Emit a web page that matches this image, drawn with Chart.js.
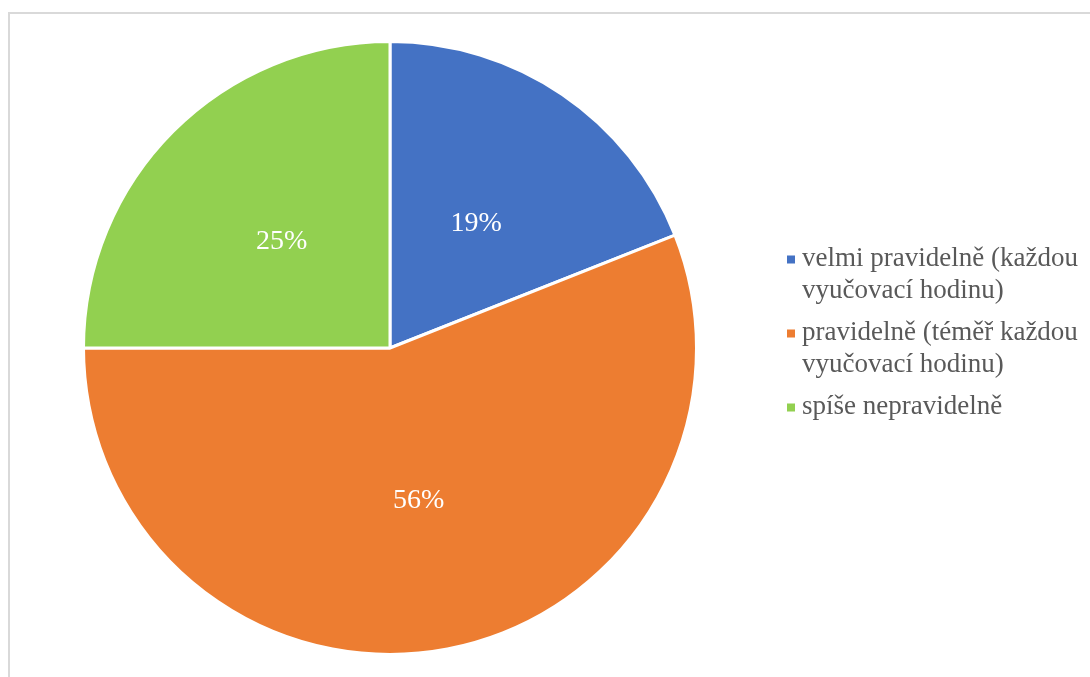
<!DOCTYPE html>
<html>
<head>
<meta charset="utf-8">
<script src="https://cdn.jsdelivr.net/npm/chart.js@4/dist/chart.umd.min.js"></script>
<style>
  html, body { margin: 0; padding: 0; background: #ffffff; }
  #wrap { position: relative; width: 1090px; height: 677px; overflow: hidden; }
  #frame { position: absolute; left: 8px; top: 12px; width: 1100px; height: 700px;
           border: 2px solid #d9d9d9; box-sizing: border-box; }
  canvas { position: absolute; left: 0; top: 0; }
</style>
</head>
<body>
<div id="wrap">
  <div id="frame"></div>
  <canvas id="chart" width="1090" height="677"></canvas>
</div>
<script>
// Answer categories (each split into the lines shown in the legend)
const categories = [
  ['velmi pravidelně (každou', 'vyučovací hodinu)'],
  ['pravidelně (téměř každou', 'vyučovací hodinu)'],
  ['spíše nepravidelně']
];
// Share of respondents, in percent
const shares = [19, 56, 25];
const sliceColors = ['#4472C4', '#ED7D31', '#92D050'];

const serif = '"Liberation Serif", "Times New Roman", serif';

// Percentage labels inside each slice
const sliceLabels = {
  id: 'sliceLabels',
  afterDatasetsDraw(chart) {
    const ctx = chart.ctx;
    const meta = chart.getDatasetMeta(0);
    ctx.save();
    ctx.fillStyle = '#ffffff';
    ctx.font = '28px ' + serif;
    ctx.textAlign = 'center';
    ctx.textBaseline = 'middle';
    meta.data.forEach((arc, i) => {
      const p = arc.tooltipPosition();
      ctx.fillText(shares[i] + '%', p.x, p.y + 2);
    });
    ctx.restore();
  }
};

// Legend on the right: square marker plus wrapped category text
const sideLegend = {
  id: 'sideLegend',
  afterDraw(chart) {
    const ctx = chart.ctx;
    const markerX = 787, textX = 802;
    const lineGap = 32, itemGap = 10;
    let cy = 259.5;
    ctx.save();
    ctx.font = '27px ' + serif;
    ctx.textAlign = 'left';
    ctx.textBaseline = 'alphabetic';
    chart.data.labels.forEach((lines, i) => {
      ctx.fillStyle = sliceColors[i];
      ctx.fillRect(markerX, cy - 4, 8, 8);
      ctx.fillStyle = '#595959';
      lines.forEach((t, j) => ctx.fillText(t, textX, cy + 6.5 + j * lineGap));
      cy += lines.length * lineGap + itemGap;
    });
    ctx.restore();
  }
};

new Chart(document.getElementById('chart'), {
  type: 'pie',
  data: {
    labels: categories,
    datasets: [{
      data: shares,
      backgroundColor: sliceColors,
      borderColor: '#ffffff',
      borderWidth: 3
    }]
  },
  options: {
    responsive: false,
    animation: false,
    radius: 306.5,
    layout: { padding: { left: 84, top: 42, right: 394, bottom: 23 } },
    plugins: {
      legend: { display: false },
      tooltip: { enabled: false }
    }
  },
  plugins: [sliceLabels, sideLegend]
});
</script>
</body>
</html>
